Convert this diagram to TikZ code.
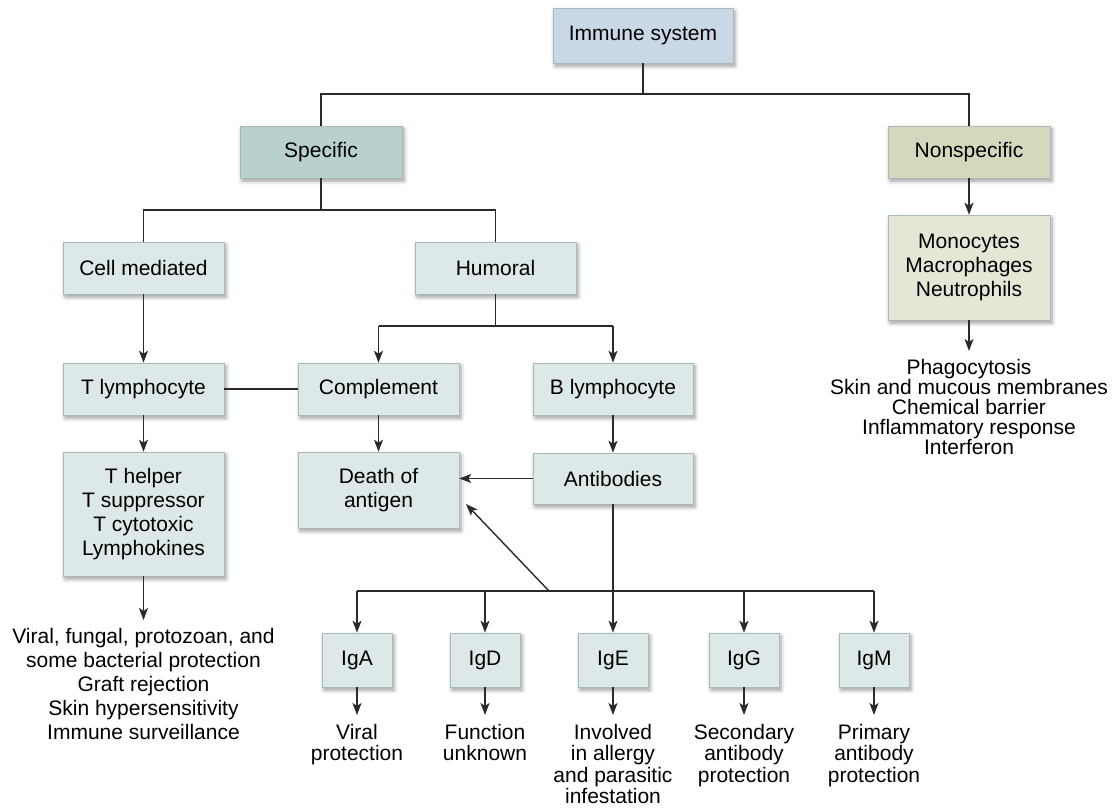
\documentclass[tikz,border=0pt]{standalone}
\usepackage{fontspec}
\setmainfont{Liberation Sans}
\usetikzlibrary{arrows.meta,shadows.blur}
\definecolor{immfill}{HTML}{CAD7E5}
\definecolor{specfill}{HTML}{B8D0CE}
\definecolor{nonsfill}{HTML}{D4D8BC}
\definecolor{monofill}{HTML}{E4E7D5}
\definecolor{boxfill}{HTML}{DDE9E9}
\definecolor{boxline}{HTML}{A9B8B8}
\definecolor{linecol}{HTML}{2A2A2A}
\begin{document}
\begin{tikzpicture}[x=1pt,y=-1pt,
  box/.style={draw=boxline, line width=0.6pt, fill=boxfill, inner sep=0pt, align=center,
    font=\fontsize{21}{24}\selectfont,
    blur shadow={shadow xshift=2pt,shadow yshift=-3pt,shadow blur radius=4pt,shadow opacity=40}},
  sz/.style 2 args={minimum width=#1pt, minimum height=#2pt},
  conn/.style={draw=linecol, line width=1.4pt},
  arr/.style={conn, -{Stealth[length=12pt,width=9pt,inset=3pt]}},
  lbl/.style={align=center, inner sep=0pt, anchor=north, font=\fontsize{21}{24}\selectfont},
  lbltight/.style={align=center, inner sep=0pt, anchor=north, font=\fontsize{21}{20}\selectfont},
  iglbl/.style={align=center, inner sep=0pt, anchor=north, font=\fontsize{21}{21.5}\selectfont},
]
\useasboundingbox (0,0) rectangle (1112,809);

% boxes
\node[box, sz={180}{55}, fill=immfill] (imm) at (643,35.5) {Immune system};
\node[box, sz={162}{52}, fill=specfill] (spec) at (321,152) {Specific};
\node[box, sz={162}{52}, fill=nonsfill] (nons) at (969,152) {Nonspecific};
\node[box, sz={162}{105}, fill=monofill] (mono) at (969,267.5) {Monocytes\\Macrophages\\Neutrophils};
\node[box, sz={161}{52}] (cell) at (143.5,268) {Cell mediated};
\node[box, sz={161}{52}] (hum) at (495.5,268) {Humoral};
\node[box, sz={161}{52}] (tly) at (143.5,389) {T lymphocyte};
\node[box, sz={161}{52}] (comp) at (378.5,389) {Complement};
\node[box, sz={160}{52}] (bly) at (613,389) {B lymphocyte};
\node[box, sz={161}{124}] (thelp) at (143.5,514) {T helper\\T suppressor\\T cytotoxic\\Lymphokines};
\node[box, sz={161}{76}] (death) at (378.5,490) {Death of\\antigen};
\node[box, sz={160}{51}] (anti) at (613,478.5) {Antibodies};
\node[box, sz={70}{54}] (iga) at (357,660) {IgA};
\node[box, sz={70}{54}] (igd) at (485,660) {IgD};
\node[box, sz={70}{54}] (ige) at (613,660) {IgE};
\node[box, sz={70}{54}] (igg) at (744,660) {IgG};
\node[box, sz={70}{54}] (igm) at (874,660) {IgM};

% junction coordinates
\coordinate (j1) at (643,94);
\coordinate (j2) at (321,210);
\coordinate (j3) at (495.5,326);
\coordinate (bar) at (613,591);
\coordinate (dg) at (549,591);
\coordinate (dt) at (466,504);
\coordinate (tout) at (143.5,620);
\coordinate (mout) at (969,351);
\coordinate (aout) at (357,715);
\coordinate (dout) at (485,715);
\coordinate (eout) at (613,715);
\coordinate (gout) at (744,715);
\coordinate (mgout) at (874,715);

% connectors
\draw[conn] (imm.south) -- (j1);
\draw[conn] (spec.north) -- (spec.north |- j1) -- (nons.north |- j1) -- (nons.north);
\draw[conn] (spec.south) -- (j2);
\draw[conn] (cell.north) -- (cell.north |- j2) -- (hum.north |- j2) -- (hum.north);
\draw[arr] (cell.south) -- (tly.north);
\draw[conn] (hum.south) -- (j3);
\draw[conn] (comp.north |- j3) -- (bly.north |- j3);
\draw[arr] (comp.north |- j3) -- (comp.north);
\draw[arr] (bly.north |- j3) -- (bly.north);
\draw[conn] (tly.east) -- (comp.west);
\draw[arr] (tly.south) -- (thelp.north);
\draw[arr] (comp.south) -- (death.north);
\draw[arr] (bly.south) -- (anti.north);
\draw[arr] (anti.west) -- (death.east |- anti.west);
\draw[conn] (anti.south) -- (bar);
\draw[conn] (iga.north |- bar) -- (igm.north |- bar);
\foreach \n in {iga,igd,ige,igg,igm} \draw[arr] (\n.north |- bar) -- (\n.north);
\draw[arr] (dg) -- (dt);
\draw[arr] (nons.south) -- (mono.north);
\draw[arr] (mono.south) -- (mout);
\draw[arr] (thelp.south) -- (tout);
\draw[arr] (iga.south) -- (aout);
\draw[arr] (igd.south) -- (dout);
\draw[arr] (ige.south) -- (eout);
\draw[arr] (igg.south) -- (gout);
\draw[arr] (igm.south) -- (mgout);

% labels
\node[lbl] (tlab) at (143.5,628) {Viral, fungal, protozoan, and\\some bacterial protection\\Graft rejection\\Skin hypersensitivity\\Immune surveillance};
\node[lbltight] (mlab) at (969,359) {Phagocytosis\\Skin and mucous membranes\\Chemical barrier\\Inflammatory response\\Interferon};
\node[iglbl] (alab) at (357,724) {Viral\\protection};
\node[iglbl] (dlab) at (485,724) {Function\\unknown};
\node[iglbl] (elab) at (613,724) {Involved\\in allergy\\and parasitic\\infestation};
\node[iglbl] (glab) at (744,724) {Secondary\\antibody\\protection};
\node[iglbl] (mglab) at (874,724) {Primary\\antibody\\protection};
\end{tikzpicture}
\end{document}
